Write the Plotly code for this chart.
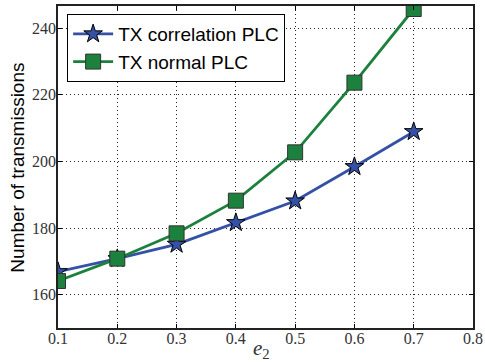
import plotly.graph_objects as go

x_vals = [0.1, 0.2, 0.3, 0.4, 0.5, 0.6, 0.7]
corr_plc = [166.9, 170.8, 175.1, 181.6, 188.1, 198.4, 208.9]
normal_plc = [164.1, 170.8, 178.4, 188.2, 202.7, 223.6, 245.7]
x_ticks = [0.1, 0.2, 0.3, 0.4, 0.5, 0.6, 0.7, 0.8]
y_ticks = [160, 180, 200, 220, 240]

blue = "#3451a6"
green = "#1c813d"

fig = go.Figure()
fig.add_trace(go.Scatter(
    x=x_vals, y=corr_plc, mode="lines+markers", name="TX correlation PLC",
    line=dict(color=blue, width=2.8),
    marker=dict(symbol="star", size=14, color=blue, line=dict(color="black", width=1)),
))
fig.add_trace(go.Scatter(
    x=x_vals, y=normal_plc, mode="lines+markers", name="TX normal PLC",
    line=dict(color=green, width=2.8),
    marker=dict(symbol="square", size=15, color=green, line=dict(color="#333333", width=1)),
))

axis_common = dict(
    showgrid=True, gridcolor="#222222", griddash="1px,3px", gridwidth=1,
    ticks="inside", ticklen=4, tickcolor="black", mirror="allticks",
    showline=True, linecolor="#222222", linewidth=1.5, zeroline=False,
    automargin=False,
    tickfont=dict(family="Liberation Serif", size=16, color="#333333"),
)

fig.update_xaxes(
    range=[0.1, 0.8], tickvals=x_ticks, ticktext=[f"{v:.1f}" for v in x_ticks],
    ticklabelstandoff=-5,
    **axis_common,
)
fig.update_yaxes(
    range=[150, 246.6], tickvals=y_ticks,
    ticklabelstandoff=-3,
    **axis_common,
)

fig.add_annotation(
    text="<i>e</i><sub>2</sub>", xref="paper", yref="paper", x=0.49, y=-0.066,
    xanchor="center", yanchor="middle", showarrow=False,
    font=dict(family="Liberation Serif", size=21, color="#333333"),
)
fig.add_annotation(
    text="Number of transmissions", xref="paper", yref="paper", x=-0.0964, y=0.498,
    xanchor="center", yanchor="middle", textangle=-90, showarrow=False,
    font=dict(family="Liberation Sans", size=19, color="black"),
)

fig.update_layout(
    width=485, height=362,
    margin=dict(l=58, r=12, t=6, b=34),
    plot_bgcolor="white", paper_bgcolor="white",
    showlegend=True,
    legend=dict(
        x=0.022, y=0.975, xanchor="left", yanchor="top",
        bgcolor="white", bordercolor="black", borderwidth=1,
        font=dict(family="Liberation Sans", size=19, color="black"),
        itemwidth=40,
    ),
)

fig.write_html(
    "out.html",
    config={"displayModeBar": False},
    post_script="document.body.style.margin='0';document.body.style.padding='0';",
)
